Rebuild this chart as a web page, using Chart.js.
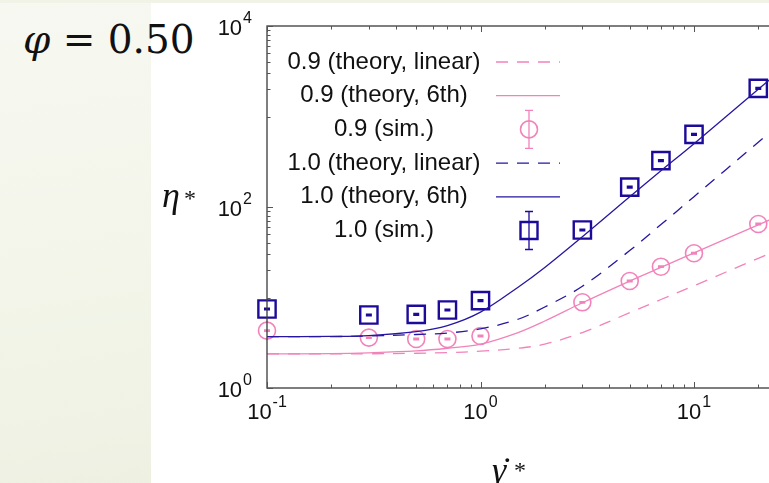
<!DOCTYPE html>
<html>
<head>
<meta charset="utf-8">
<script src="https://cdn.jsdelivr.net/npm/chart.js@4.4.1/dist/chart.umd.min.js"></script>
<style>
  html, body { margin: 0; padding: 0; width: 769px; height: 483px; overflow: hidden; background: #fff; }
  #side { position: absolute; left: 0; top: 0; width: 151px; height: 483px;
          background: linear-gradient(172deg, #f7f8f1 0%, #f3f5ea 55%, #eef1e2 100%); }
  #strip { position: absolute; left: 0; top: 0; width: 769px; height: 3px; background: #f1f3e6; }
  #phi { position: absolute; left: 23px; top: 20px; font: 39px/1 "DejaVu Serif", serif; color: #111; white-space: nowrap; }
  #phi i { font-style: italic; }
  canvas { position: absolute; left: 0; top: 0; }
</style>
</head>
<body>
<div id="side"></div>
<div id="strip"></div>
<div id="phi"><i>φ</i> = 0.50</div>
<canvas id="plot" width="1000" height="483"></canvas>
<script>
// simulation points (dimensionless shear rate vs viscosity)
const simRates = [0.1, 0.3, 0.5, 0.7, 1, 3, 5, 7, 10, 20];
const simEta09 = [4.30, 3.60, 3.48, 3.48, 3.76, 8.85, 15.2, 21.9, 30.8, 64.9];
const simErr09 = [0.07, 0.06, 0.06, 0.06, 0.06, 0.14, 0.25, 0.35, 0.5, 1.0];
const simEta10 = [7.46, 6.41, 6.52, 7.28, 9.22, 55.7, 166, 325, 635, 2048];
const simErr10 = [0.15, 0.13, 0.13, 0.15, 0.19, 1.1, 3.3, 6.5, 13, 41];

// theory curves
const theoryRates = [0.1, 0.2, 0.3, 0.5, 0.7, 1, 1.5, 2, 3, 5, 7, 10, 20, 30];
const etaLinear09 = [2.38, 2.38, 2.39, 2.42, 2.46, 2.55, 2.75, 3.05, 4.1, 6.8, 9.5, 13.5, 27.1, 40.7];
const eta6th09 = [2.38, 2.40, 2.45, 2.57, 2.75, 3.05, 4.1, 5.5, 8.75, 15.2, 21.5, 31.1, 63.5, 96];
const etaLinear10 = [3.69, 3.70, 3.75, 3.9, 4.05, 4.5, 5.75, 7.85, 13.3, 33, 64, 130, 520, 1170];
const eta6th10 = [3.69, 3.72, 3.8, 4.2, 4.9, 6.9, 13.0, 21.5, 47, 130, 251, 500, 2000, 4470];

// labelled powers of ten; y minor tics sit in the odd decades only
const xTicks = [-1, 0, 1, 2];
const yTicks = [0, 2, 4];
const yMinorDecades = [1, 3];

const PINK = '#f283ba';
const BLUE = '#2616a2';
const NAVY = '#1c0a9a';
const AXIS = '#3a3a3a';

const pts = (xs, ys) => xs.map((x, i) => ({ x, y: ys[i] }));

const curve = (label, ys, color, dash) => ({
  label, data: pts(theoryRates, ys), borderColor: color, borderWidth: 1.3,
  borderDash: dash, pointRadius: 0, tension: 0.35, fill: false
});

const datasets = [
  curve('0.9 (theory, linear)', etaLinear09, PINK, [12, 9]),
  curve('0.9 (theory, 6th)', eta6th09, PINK, []),
  curve('1.0 (theory, linear)', etaLinear10, BLUE, [12, 9]),
  curve('1.0 (theory, 6th)', eta6th10, BLUE, []),
  {
    label: '0.9 (sim.)', data: pts(simRates, simEta09), err: simErr09, showLine: false,
    pointStyle: 'circle', pointRadius: 8.5, borderColor: PINK, borderWidth: 1.6,
    backgroundColor: 'rgba(0,0,0,0)', clip: false
  },
  {
    label: '1.0 (sim.)', data: pts(simRates, simEta10), err: simErr10, showLine: false,
    pointStyle: 'rect', pointRadius: 12.2, borderColor: NAVY, borderWidth: 2.4,
    backgroundColor: 'rgba(0,0,0,0)', clip: false
  }
];

// tiny error bars inside the simulation markers
const errorBars = {
  id: 'errorBars',
  afterDatasetsDraw(chart) {
    const { ctx, scales: { x, y } } = chart;
    ctx.save();
    chart.data.datasets.forEach(ds => {
      if (!ds.err) return;
      ctx.strokeStyle = ds.borderColor;
      ctx.lineWidth = 1.6;
      ds.data.forEach((p, i) => {
        const px = x.getPixelForValue(p.x);
        const top = y.getPixelForValue(p.y + ds.err[i]);
        const bot = y.getPixelForValue(p.y - ds.err[i]);
        ctx.beginPath();
        ctx.moveTo(px, top); ctx.lineTo(px, bot);
        ctx.moveTo(px - 3, top); ctx.lineTo(px + 3, top);
        ctx.moveTo(px - 3, bot); ctx.lineTo(px + 3, bot);
        ctx.stroke();
      });
    });
    ctx.restore();
  }
};

function powerLabel(ctx, exp, x, y, align) {
  ctx.font = '22px "Liberation Sans", Arial, sans-serif';
  const base = ctx.measureText('10').width;
  ctx.font = '16px "Liberation Sans", Arial, sans-serif';
  const sup = ctx.measureText(String(exp)).width;
  const total = base + sup + 1;
  const left = align === 'right' ? x - total : x - total / 2;
  ctx.textAlign = 'left';
  ctx.textBaseline = 'alphabetic';
  ctx.font = '22px "Liberation Sans", Arial, sans-serif';
  ctx.fillText('10', left, y);
  ctx.font = '16px "Liberation Sans", Arial, sans-serif';
  ctx.fillText(String(exp), left + base + 1, y - 12);
}

// frame, inward ticks, power-of-ten labels and axis symbols
const frame = {
  id: 'frame',
  afterDraw(chart) {
    const { ctx, chartArea: a, scales: { x, y } } = chart;
    ctx.save();
    ctx.strokeStyle = AXIS;
    ctx.lineWidth = 1.3;
    ctx.strokeRect(a.left, a.top, a.right - a.left, a.bottom - a.top);

    ctx.lineWidth = 1;
    ctx.strokeStyle = '#555';
    ctx.beginPath();
    for (let e = -1; e < 2; e++) {
      for (let m = 1; m <= 9; m++) {
        const px = Math.round(x.getPixelForValue(m * Math.pow(10, e))) + 0.5;
        const len = m === 1 ? 6 : 3.5;
        ctx.moveTo(px, a.bottom); ctx.lineTo(px, a.bottom - len);
        ctx.moveTo(px, a.top); ctx.lineTo(px, a.top + len);
      }
    }
    yTicks.forEach(e => {
      const py = Math.round(y.getPixelForValue(Math.pow(10, e))) + 0.5;
      ctx.moveTo(a.left, py); ctx.lineTo(a.left + 6, py);
    });
    yMinorDecades.forEach(e => {
      for (let m = 1; m <= 9; m++) {
        const py = Math.round(y.getPixelForValue(m * Math.pow(10, e))) + 0.5;
        ctx.moveTo(a.left, py); ctx.lineTo(a.left + 3.5, py);
      }
    });
    ctx.stroke();

    ctx.fillStyle = '#111';
    xTicks.forEach(e => powerLabel(ctx, e, x.getPixelForValue(Math.pow(10, e)), 419, 'center'));
    yTicks.forEach(e => powerLabel(ctx, e, 252, y.getPixelForValue(Math.pow(10, e)) + 9, 'right'));

    ctx.textAlign = 'left';
    ctx.font = 'italic 36px "Liberation Serif", serif';
    ctx.fillText('η', 162, 207);
    ctx.font = '24px "Liberation Serif", serif';
    ctx.fillText('*', 184, 206);

    ctx.font = 'italic 36px "Liberation Serif", serif';
    ctx.fillText('γ', 492, 482);
    ctx.fillText('˙', 499, 482);
    ctx.font = '24px "Liberation Serif", serif';
    ctx.fillText('*', 514, 478);
    ctx.restore();
  }
};

// key: centred text with the line or marker sample to its right
const key = {
  id: 'key',
  afterDraw(chart) {
    const { ctx } = chart;
    const rows = ['0.9 (theory, linear)', '0.9 (theory, 6th)', '0.9 (sim.)',
                  '1.0 (theory, linear)', '1.0 (theory, 6th)', '1.0 (sim.)'];
    const styles = [0, 1, 4, 2, 3, 5];
    ctx.save();
    ctx.font = '24px "Liberation Sans", Arial, sans-serif';
    ctx.fillStyle = '#111';
    ctx.textAlign = 'center';
    ctx.textBaseline = 'middle';
    rows.forEach((txt, i) => {
      const cy = 62 + i * 33.7;
      ctx.fillText(txt, 384, cy);
      const ds = chart.data.datasets[styles[i]];
      ctx.strokeStyle = ds.borderColor;
      if (ds.showLine === false) {
        ctx.lineWidth = 1.3;
        ctx.beginPath();
        ctx.moveTo(529, cy - 19); ctx.lineTo(529, cy + 19);
        ctx.moveTo(525, cy - 19); ctx.lineTo(533, cy - 19);
        ctx.moveTo(525, cy + 19); ctx.lineTo(533, cy + 19);
        ctx.stroke();
        ctx.lineWidth = ds.borderWidth;
        ctx.beginPath();
        if (ds.pointStyle === 'circle') ctx.arc(529, cy, 8.5, 0, Math.PI * 2);
        else ctx.rect(520.5, cy - 8.5, 17, 17);
        ctx.stroke();
      } else {
        ctx.lineWidth = 1.3;
        ctx.setLineDash(ds.borderDash);
        ctx.beginPath();
        ctx.moveTo(496, cy); ctx.lineTo(560, cy);
        ctx.stroke();
        ctx.setLineDash([]);
      }
    });
    ctx.restore();
  }
};

new Chart(document.getElementById('plot'), {
  type: 'line',
  data: { datasets },
  options: {
    responsive: false,
    animation: false,
    layout: { padding: { left: 267, top: 26, right: 92.5, bottom: 95 } },
    scales: {
      x: { type: 'logarithmic', min: 0.1, max: 100, display: false },
      y: { type: 'logarithmic', min: 1, max: 10000, display: false }
    },
    plugins: { legend: { display: false }, tooltip: { enabled: false } }
  },
  plugins: [errorBars, frame, key]
});
</script>
</body>
</html>
